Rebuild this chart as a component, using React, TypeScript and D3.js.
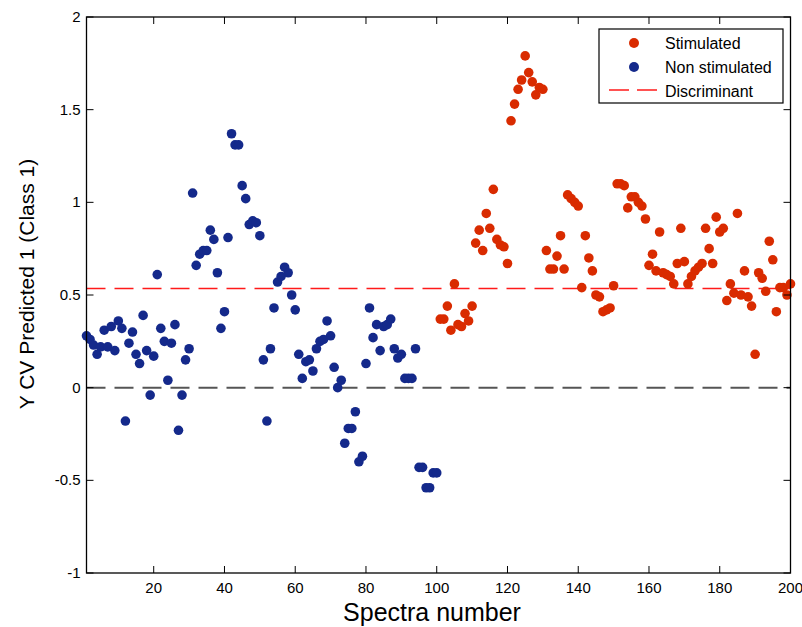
import React from "react";
import * as d3 from "d3";

const nonStimulated: number[] = [
  0.28, 0.26, 0.23, 0.18, 0.22, 0.31, 0.22, 0.33, 0.20, 0.36,
  0.32, -0.18, 0.24, 0.30, 0.18, 0.13, 0.39, 0.20, -0.04, 0.17,
  0.61, 0.32, 0.25, 0.04, 0.24, 0.34, -0.23, -0.04, 0.15, 0.21,
  1.05, 0.66, 0.72, 0.74, 0.74, 0.85, 0.80, 0.62, 0.32, 0.41,
  0.81, 1.37, 1.31, 1.31, 1.09, 1.02, 0.88, 0.90, 0.89, 0.82,
  0.15, -0.18, 0.21, 0.43, 0.57, 0.60, 0.65, 0.62, 0.50, 0.42,
  0.18, 0.05, 0.14, 0.15, 0.09, 0.21, 0.25, 0.26, 0.36, 0.28,
  0.11, 0.00, 0.04, -0.30, -0.22, -0.22, -0.13, -0.40, -0.37, 0.13,
  0.43, 0.27, 0.34, 0.20, 0.33, 0.34, 0.37, 0.21, 0.16, 0.18,
  0.05, 0.05, 0.05, 0.21, -0.43, -0.43, -0.54, -0.54, -0.46, -0.46,
];

const stimulated: number[] = [
  0.37, 0.37, 0.44, 0.31, 0.56, 0.34, 0.33, 0.40, 0.36, 0.44,
  0.78, 0.85, 0.74, 0.94, 0.86, 1.07, 0.80, 0.77, 0.76, 0.67,
  1.44, 1.53, 1.61, 1.66, 1.79, 1.70, 1.65, 1.58, 1.62, 1.61,
  0.74, 0.64, 0.64, 0.71, 0.82, 0.64, 1.04, 1.02, 1.00, 0.98,
  0.54, 0.82, 0.70, 0.63, 0.50, 0.49, 0.41, 0.42, 0.43, 0.55,
  1.10, 1.10, 1.09, 0.97, 1.03, 1.03, 1.00, 0.98, 0.91, 0.66,
  0.72, 0.63, 0.84, 0.62, 0.61, 0.60, 0.56, 0.67, 0.86, 0.68,
  0.56, 0.60, 0.63, 0.65, 0.67, 0.86, 0.75, 0.67, 0.92, 0.84,
  0.86, 0.47, 0.56, 0.51, 0.94, 0.50, 0.63, 0.49, 0.44, 0.18,
  0.62, 0.59, 0.52, 0.79, 0.69, 0.41, 0.54, 0.54, 0.50, 0.56,
];

const discriminant = 0.535;
const xTicks: number[] = [20, 40, 60, 80, 100, 120, 140, 160, 180, 200];
const yTicks: number[] = [-1, -0.5, 0, 0.5, 1, 1.5, 2];
const legendLabels: string[] = ["Stimulated", "Non stimulated", "Discriminant"];

const BLUE = "#14298b";
const RED = "#d92b00";
const FONT = "'Liberation Sans', Arial, sans-serif";

export default function App() {
  const W = 802;
  const H = 627;
  const left = 86.5;
  const right = 790.5;
  const top = 17;
  const bottom = 573;

  const x = d3.scaleLinear().domain([1, 200]).range([left, right]);
  const y = d3.scaleLinear().domain([-1, 2]).range([bottom, top]);

  const blue = nonStimulated.map((v, i) => ({ i: i + 1, v }));
  const red = stimulated.map((v, i) => ({ i: i + 101, v }));

  const tickLen = 7;
  const lx = 599;
  const ly = 29;
  const lw = 184;
  const lh = 74;
  const R = 4.8;

  return (
    <svg
      width={W}
      height={H}
      style={{ position: "absolute", left: 0, top: 0, background: "#fff" }}
      fontFamily={FONT}
    >
      <rect x={0} y={0} width={W} height={H} fill="#fff" />
      <line
        x1={left}
        x2={right}
        y1={y(0)}
        y2={y(0)}
        stroke="#555"
        strokeWidth={2}
        strokeDasharray="19,9"
      />
      <line
        x1={left}
        x2={right}
        y1={y(discriminant)}
        y2={y(discriminant)}
        stroke="#ff1a1a"
        strokeWidth={1.5}
        strokeDasharray="19,9"
      />
      {blue.map((d) => (
        <circle key={"b" + d.i} cx={x(d.i)} cy={y(d.v)} r={R} fill={BLUE} />
      ))}
      {red.map((d) => (
        <circle key={"r" + d.i} cx={x(d.i)} cy={y(d.v)} r={R} fill={RED} />
      ))}
      <rect
        x={left}
        y={top}
        width={right - left}
        height={bottom - top}
        fill="none"
        stroke="#000"
        strokeWidth={1.3}
      />
      {xTicks.map((t) => (
        <g key={"xt" + t}>
          <line x1={x(t)} x2={x(t)} y1={bottom} y2={bottom - tickLen} stroke="#000" />
          <line x1={x(t)} x2={x(t)} y1={top} y2={top + tickLen} stroke="#000" />
          <text x={x(t)} y={bottom + 20} fontSize={15} textAnchor="middle" fill="#000">
            {t}
          </text>
        </g>
      ))}
      {yTicks.map((t) => (
        <g key={"yt" + t}>
          <line x1={left} x2={left + tickLen} y1={y(t)} y2={y(t)} stroke="#000" />
          <line x1={right} x2={right - tickLen} y1={y(t)} y2={y(t)} stroke="#000" />
          <text x={left - 6} y={y(t) + 5} fontSize={15} textAnchor="end" fill="#000">
            {String(t)}
          </text>
        </g>
      ))}
      <text x={432} y={621} fontSize={25} textAnchor="middle" fill="#000">
        Spectra number
      </text>
      <text
        transform={`translate(34, 284) rotate(-90)`}
        fontSize={21}
        textAnchor="middle"
        fill="#000"
      >
        Y CV Predicted 1 (Class 1)
      </text>
      <rect x={lx} y={ly} width={lw} height={lh} fill="#fff" stroke="#000" strokeWidth={1.2} />
      <circle cx={634} cy={43} r={5} fill={RED} />
      <circle cx={634} cy={67} r={5} fill={BLUE} />
      <line x1={609} x2={658} y1={90} y2={90} stroke="#ff1a1a" strokeWidth={1.5} strokeDasharray="20,8" />
      {legendLabels.map((l, k) => (
        <text key={l} x={665} y={49 + k * 24} fontSize={16} fill="#000">
          {l}
        </text>
      ))}
    </svg>
  );
}
